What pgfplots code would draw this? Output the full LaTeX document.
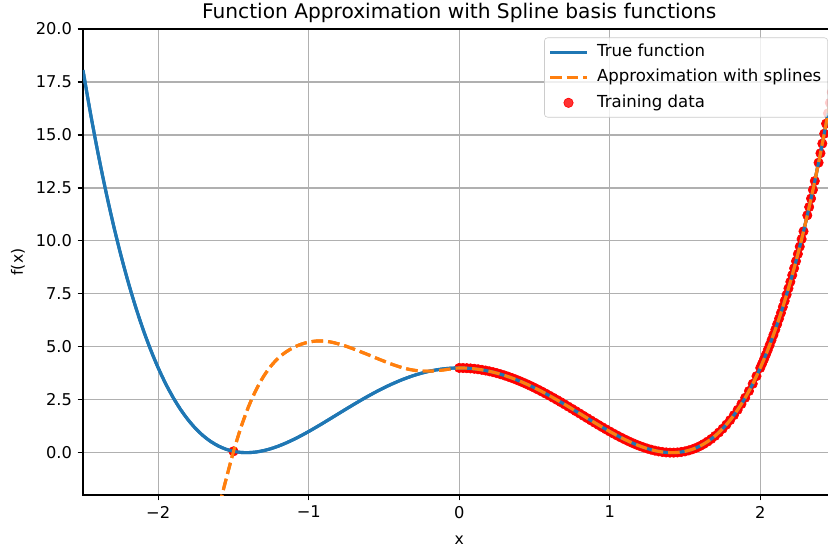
\documentclass[border=0pt]{standalone}
\usepackage{fontspec}
\setmainfont{DejaVu Sans}
\usepackage{pgfplots}
\usepackage{pgfplotstable}
\pgfplotsset{compat=1.18}
\definecolor{tabblue}{HTML}{1F77B4}
\definecolor{taborange}{HTML}{FF7F0E}
\definecolor{gridgray}{HTML}{B0B0B0}
\definecolor{legendgray}{HTML}{CCCCCC}

\pgfplotstableread{
x y
-2.50 18.0625
-2.45 16.0200
-2.40 14.1376
-2.35 12.4080
-2.30 10.8241
-2.25 9.3789
-2.20 8.0656
-2.15 6.8775
-2.10 5.8081
-2.05 4.8510
-2.00 4.0000
-1.95 3.2490
-1.90 2.5921
-1.85 2.0235
-1.80 1.5376
-1.75 1.1289
-1.70 0.7921
-1.65 0.5220
-1.60 0.3136
-1.55 0.1620
-1.50 0.0625
-1.45 0.0105
-1.40 0.0016
-1.35 0.0315
-1.30 0.0961
-1.25 0.1914
-1.20 0.3136
-1.15 0.4590
-1.10 0.6241
-1.05 0.8055
-1.00 1.0000
-0.95 1.2045
-0.90 1.4161
-0.85 1.6320
-0.80 1.8496
-0.75 2.0664
-0.70 2.2801
-0.65 2.4885
-0.60 2.6896
-0.55 2.8815
-0.50 3.0625
-0.45 3.2310
-0.40 3.3856
-0.35 3.5250
-0.30 3.6481
-0.25 3.7539
-0.20 3.8416
-0.15 3.9105
-0.10 3.9601
-0.05 3.9900
0.00 4.0000
0.05 3.9900
0.10 3.9601
0.15 3.9105
0.20 3.8416
0.25 3.7539
0.30 3.6481
0.35 3.5250
0.40 3.3856
0.45 3.2310
0.50 3.0625
0.55 2.8815
0.60 2.6896
0.65 2.4885
0.70 2.2801
0.75 2.0664
0.80 1.8496
0.85 1.6320
0.90 1.4161
0.95 1.2045
1.00 1.0000
1.05 0.8055
1.10 0.6241
1.15 0.4590
1.20 0.3136
1.25 0.1914
1.30 0.0961
1.35 0.0315
1.40 0.0016
1.45 0.0105
1.50 0.0625
1.55 0.1620
1.60 0.3136
1.65 0.5220
1.70 0.7921
1.75 1.1289
1.80 1.5376
1.85 2.0235
1.90 2.5921
1.95 3.2490
2.00 4.0000
2.05 4.8510
2.10 5.8081
2.15 6.8775
2.20 8.0656
2.25 9.3789
2.30 10.8241
2.35 12.4080
2.40 14.1376
2.45 16.0200
2.50 18.0625
}\truetab

\pgfplotstableread{
x y
-1.62 -3.28
-1.576 -2.00
-1.55 -1.28
-1.50 0.05
-1.45 1.20
-1.40 2.17
-1.35 2.96
-1.30 3.60
-1.25 4.10
-1.20 4.48
-1.15 4.76
-1.10 4.97
-1.05 5.12
-1.00 5.22
-0.95 5.27
-0.90 5.27
-0.85 5.22
-0.80 5.13
-0.75 5.02
-0.70 4.89
-0.65 4.75
-0.60 4.61
-0.55 4.46
-0.50 4.32
-0.45 4.18
-0.40 4.06
-0.35 3.96
-0.30 3.89
-0.25 3.85
-0.20 3.85
-0.15 3.87
-0.10 3.91
-0.05 3.96
0.00 4.0000
0.05 3.9900
0.10 3.9601
0.15 3.9105
0.20 3.8416
0.25 3.7539
0.30 3.6481
0.35 3.5250
0.40 3.3856
0.45 3.2310
0.50 3.0625
0.55 2.8815
0.60 2.6896
0.65 2.4885
0.70 2.2801
0.75 2.0664
0.80 1.8496
0.85 1.6320
0.90 1.4161
0.95 1.2045
1.00 1.0000
1.05 0.8055
1.10 0.6241
1.15 0.4590
1.20 0.3136
1.25 0.1914
1.30 0.0961
1.35 0.0315
1.40 0.0016
1.45 0.0105
1.50 0.0625
1.55 0.1620
1.60 0.3136
1.65 0.5220
1.70 0.7921
1.75 1.1289
1.80 1.5376
1.85 2.0235
1.90 2.5921
1.95 3.2490
2.00 4.0000
2.05 4.8510
2.10 5.8081
2.15 6.8775
2.20 8.0656
2.25 9.3789
2.30 10.8241
2.35 12.4080
2.40 14.1376
2.45 16.0200
2.50 18.0625
}\approxtab

\pgfplotstableread{
x y
-1.50 0.0625
0.000 4.0000
0.025 3.9975
0.050 3.9900
0.075 3.9775
0.100 3.9601
0.125 3.9377
0.150 3.9105
0.175 3.8784
0.200 3.8416
0.225 3.8001
0.250 3.7539
0.275 3.7032
0.300 3.6481
0.325 3.5887
0.350 3.5250
0.375 3.4573
0.400 3.3856
0.425 3.3101
0.450 3.2310
0.475 3.1484
0.500 3.0625
0.525 2.9735
0.550 2.8815
0.575 2.7868
0.600 2.6896
0.625 2.5901
0.650 2.4885
0.675 2.3851
0.700 2.2801
0.725 2.1738
0.750 2.0664
0.775 1.9583
0.800 1.8496
0.825 1.7408
0.850 1.6320
0.875 1.5237
0.900 1.4161
0.925 1.3096
0.950 1.2045
0.975 1.1012
1.000 1.0000
1.025 0.9013
1.050 0.8055
1.075 0.7130
1.100 0.6241
1.125 0.5393
1.150 0.4590
1.175 0.3836
1.200 0.3136
1.225 0.2494
1.250 0.1914
1.275 0.1402
1.300 0.0961
1.325 0.0597
1.350 0.0315
1.375 0.0120
1.400 0.0016
1.425 0.0009
1.450 0.0105
1.475 0.0308
1.500 0.0625
1.525 0.1060
1.550 0.1620
1.575 0.2310
1.600 0.3136
1.625 0.4104
1.650 0.5220
1.675 0.6490
1.700 0.7921
1.725 0.9518
1.750 1.1289
1.775 1.3239
1.800 1.5376
1.825 1.7706
1.850 2.0235
1.875 2.2971
1.900 2.5921
1.925 2.9092
1.950 3.2490
1.975 3.6124
2.000 4.0000
2.0125 4.2031
2.025 4.4126
2.0375 4.6286
2.050 4.8510
2.0625 5.0801
2.075 5.3159
2.0875 5.5586
2.100 5.8081
2.1125 6.0647
2.125 6.3284
2.1375 6.5993
2.150 6.8775
2.1625 7.1632
2.175 7.4563
2.1875 7.7571
2.200 8.0656
2.2125 8.3819
2.225 8.7062
2.2375 9.0385
2.250 9.3789
2.2625 9.7276
2.275 10.0846
2.2875 10.4501
2.3125 11.2068
2.325 11.5983
2.3375 11.9987
2.350 12.4080
2.3625 12.8265
2.3875 13.6912
2.400 14.1376
2.4125 14.5936
2.425 15.0593
2.4375 15.5347
2.450 16.0200
2.4625 16.5154
2.475 17.0208
2.4875 17.5365
}\traintab

\begin{document}
\begin{tikzpicture}
\begin{axis}[
  at={(0,0)}, anchor=south west,
  scale only axis, width=481.6pt, height=298.2pt,
  xmin=-2.5, xmax=2.5, ymin=-2, ymax=20,
  clip marker paths=true,
  xtick={-2,-1,0,1,2}, xticklabels={−2,−1,0,1,2},
  ytick={0,2.5,5,7.5,10,12.5,15,17.5,20},
  yticklabels={0.0,2.5,5.0,7.5,10.0,12.5,15.0,17.5,20.0},
  grid=major, grid style={gridgray, line width=0.8pt},
  axis line style={line width=0.8pt},
  tick style={black, line width=0.8pt}, tick align=outside, major tick length=3.5pt,
  tick pos=left,
  ticklabel style={font=\fontsize{10.4}{12}\selectfont},
  xlabel={x}, ylabel={f(x)},
  label style={font=\fontsize{10.6}{12}\selectfont},
  every axis x label/.style={at={(axis description cs:0.5,-0.0966)}, anchor=center},
  every axis y label/.style={at={(axis description cs:-0.0864,0.5)}, anchor=center, rotate=90},
  every axis title shift=0pt,
  title={Function Approximation with Spline basis functions},
  title style={font=\fontsize{12.9}{14}\selectfont, at={(axis description cs:0.5,1)}, anchor=base, yshift=6.85pt},
  legend cell align=left,
  legend image code/.code={\draw[mark repeat=2,mark phase=2,#1] plot coordinates {(0pt,0pt) (11.8pt,0pt) (23.6pt,0pt)};},
  legend style={at={(1,1)}, anchor=north east, xshift=-4.8pt, yshift=-5.4pt,
    draw=legendgray, rounded corners=2pt, fill=white, fill opacity=0.8, text opacity=1,
    font=\fontsize{10.6}{12}\selectfont, row sep=3pt, column sep=4pt, inner sep=2.6pt,
    nodes={inner sep=1.5pt, text height=7.8pt, text depth=2.4pt}},
]
\addplot[tabblue, line width=2pt, smooth] table[x=x,y=y] {\truetab};
\addlegendentry{True function}
\addplot[taborange, line width=2pt, dash pattern=on 7.4pt off 3.2pt, smooth] table[x=x,y=y] {\approxtab};
\addlegendentry{Approximation with splines}
\addplot[only marks, mark=*, mark size=3pt, red, mark options={draw=red, fill=red}] table[x=x,y=y] {\traintab};
\addlegendentry{Training data}
\addplot[tabblue, line width=2pt, smooth, forget plot] table[x=x,y=y] {\truetab};
\addplot[taborange, line width=2pt, dash pattern=on 7.4pt off 3.2pt, smooth, forget plot] table[x=x,y=y] {\approxtab};
\end{axis}
\pgfresetboundingbox
\path[use as bounding box] (-53.1pt,-36.5pt) rectangle (476.8pt,316.8pt);
\end{tikzpicture}
\end{document}
